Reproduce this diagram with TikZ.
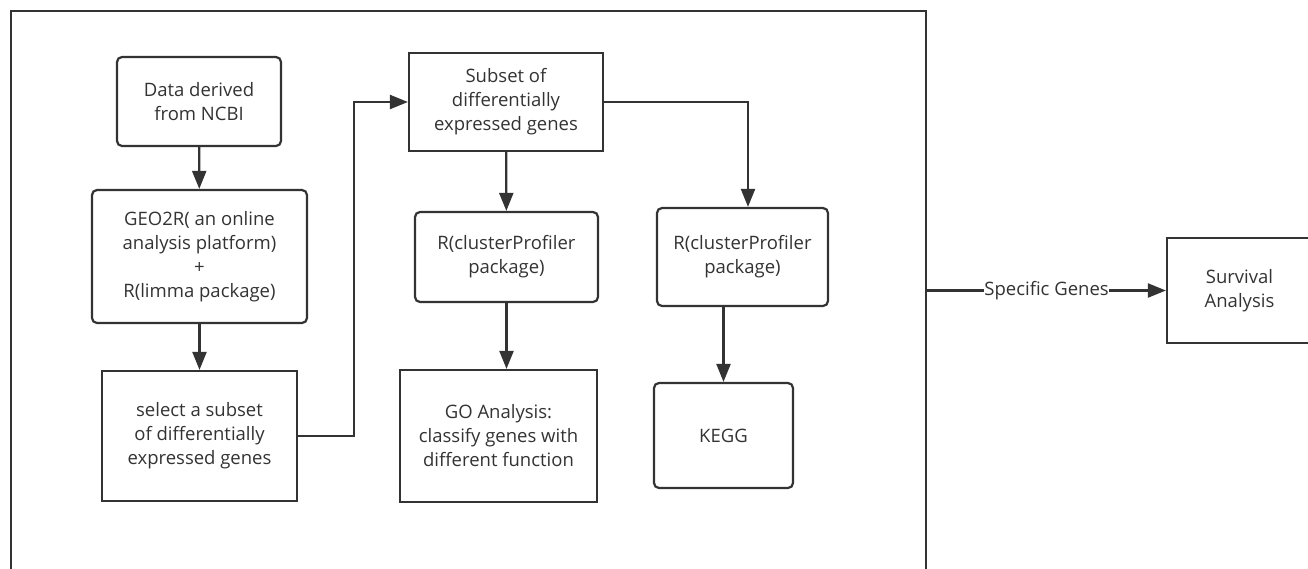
\documentclass[tikz,border=0pt]{standalone}
\usepackage{fontspec}
\setmainfont{Open Sans}
\usetikzlibrary{arrows.meta,calc}
\definecolor{ink}{HTML}{333333}

\begin{document}
\begin{tikzpicture}[x=1pt,y=-1pt,
  box/.style={draw=ink, line width=2.2pt, align=center, inner sep=2pt, text=ink,
    font=\fontsize{18.5}{24}\selectfont},
  rbox/.style={box, rounded corners=5pt},
  flow/.style={draw=ink, line width=2.2pt, -{Triangle[length=18pt,width=14pt]}}]
  \useasboundingbox (0,0) rectangle (1308,568);
  % outer frame
  \node[draw=ink, line width=2.2pt, anchor=north west, minimum width=915pt,
    minimum height=570pt, inner sep=0pt] (frame) at (10,10) {};
  % left column
  \node[rbox, minimum width=164pt, minimum height=89pt] (ncbi) at (199,101.5)
    {Data derived\\from NCBI};
  \node[rbox, minimum width=215pt, minimum height=133pt] (geo) at (199.5,256.5)
    {GEO2R( an online\\analysis platform)\\+\\R(limma package)};
  \node[box, minimum width=195pt, minimum height=130pt] (select) at (199.5,436)
    {select a subset\\of differentially\\expressed genes};
  % middle column
  \node[box, minimum width=194pt, minimum height=98pt] (subset) at (506,102)
    {Subset of\\differentially\\expressed genes};
  \node[rbox, minimum width=183pt, minimum height=90pt] (cp1) at (506.5,257)
    {R(clusterProfiler\\package)};
  \node[box, minimum width=197pt, minimum height=132pt] (go) at (498.5,436)
    {GO Analysis:\\classify genes with\\different function};
  % right column
  \node[rbox, minimum width=171pt, minimum height=98pt] (cp2) at (742.5,257)
    {R(clusterProfiler\\package)};
  \node[rbox, minimum width=139pt, minimum height=105pt] (kegg) at (723.5,435.5)
    {KEGG};
  % outside the frame
  \node[box, minimum width=145pt, minimum height=105pt] (surv) at (1239.5,290.5)
    {Survival\\Analysis};
  % connectors
  \draw[flow] (ncbi) -- (geo);
  \draw[flow] (geo) -- (select);
  \draw[flow] (select.east) -- ++(56,0) |- (subset.west);
  \draw[flow] (subset) -- (cp1);
  \draw[flow] (subset.east) -| ($(cp2.north)+(5.5,0)$);
  \draw[flow] (cp1) -- (cp1.south |- go.north);
  \draw[flow] (cp2.south -| kegg.north) -- (kegg.north);
  \draw[flow] (frame.east |- surv.west) -- (surv.west)
    node[midway, fill=white, inner sep=0.5pt, text=ink, font=\fontsize{18.5}{24}\selectfont]
    {Specific Genes};
\end{tikzpicture}
\end{document}
